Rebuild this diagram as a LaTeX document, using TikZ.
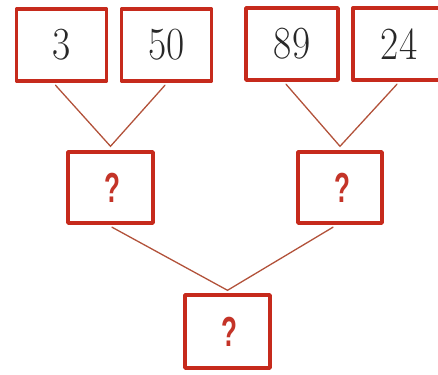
\documentclass[tikz,border=0pt]{standalone}
\usepackage{fontspec}
\usepackage{graphicx}
\usetikzlibrary{calc}
\newfontfamily\qfont{Liberation Sans}
\definecolor{boxred}{RGB}{198,42,28}
\definecolor{linered}{RGB}{178,82,58}
\definecolor{qred}{RGB}{196,52,40}
\definecolor{numgray}{RGB}{40,40,40}
\tikzset{
  numbox/.style={draw=boxred, line width=3.4pt, line join=round, rectangle, inner sep=0pt, fill=white},
  numtext/.style={text=numgray, font=\fontsize{46}{46}\selectfont},
  qtext/.style={text=qred, font=\qfont\bfseries\fontsize{42}{42}\selectfont},
  conn/.style={draw=linered, line width=1.3pt, line cap=round}
}
\begin{document}
\begin{tikzpicture}[x=1pt,y=-1pt]
\useasboundingbox (0,0) rectangle (438,374);
\clip (0,0) rectangle (438,374);
% top row
\node[numbox, minimum width=90pt, minimum height=72pt] (b1) at (61.5,45) {};
\node[numbox, minimum width=90pt, minimum height=72pt] (b2) at (166.5,45) {};
\node[numbox, minimum width=92pt, minimum height=72pt] (b3) at (292,44) {};
\node[numbox, minimum width=92pt, minimum height=72pt] (b4) at (399,44) {};
\node[numtext] (t1) at (b1) {\scalebox{0.86}[1]{3}};
\node[numtext] (t2) at (b2) {\scalebox{0.86}[1]{50}};
\node[numtext] (t3) at (b3) {\scalebox{0.86}[1]{89}};
\node[numtext] (t4) at (399,44) {\scalebox{0.86}[1]{24}};
% middle row
\node[numbox, minimum width=85pt, minimum height=71pt] (m1) at (110.5,187.5) {};
\node[numbox, minimum width=84pt, minimum height=71pt] (m2) at (340,187.5) {};
\node[qtext] (q1) at (112,187.5) {\scalebox{0.62}[1]{?}};
\node[qtext] (q2) at (342,187.5) {\scalebox{0.62}[1]{?}};
% bottom
\node[numbox, minimum width=85pt, minimum height=73pt] (r) at (227.5,331.5) {};
\node[qtext] (q3) at (229,331.5) {\scalebox{0.62}[1]{?}};
% apex coordinates
\coordinate (a1) at ($(m1.north)+(0,-4)$);
\coordinate (a2) at ($(m2.north)+(0,-4)$);
\coordinate (a3) at ($(r.north)+(0,-3)$);
% connectors
\draw[conn] ($(b1.south)+(-6,2.5)$) -- (a1) -- ($(b2.south)+(-1.5,2.5)$);
\draw[conn] ($(b3.south)+(-6,2.5)$) -- (a2) -- ($(b4.south)+(-2,2.5)$);
\draw[conn] ($(m1.south)+(1.5,2.5)$) -- (a3) -- ($(m2.south)+(-7,2.5)$);
\end{tikzpicture}
\end{document}
